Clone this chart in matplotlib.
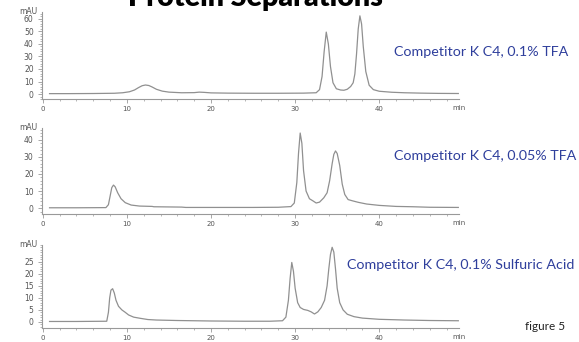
import matplotlib
matplotlib.use('Agg')
import matplotlib.pyplot as plt
from matplotlib.ticker import MultipleLocator

# 0.1% TFA
t_tfa01 = [0.8, 3, 6, 8.5, 9.5, 10.3, 10.9, 11.4, 11.8, 12.2, 12.6, 13.0, 13.5, 14.2, 15, 16.5, 18, 18.6,
           19.2, 20, 22, 25, 28, 31, 32.5, 32.9, 33.2, 33.45, 33.7, 33.95, 34.2, 34.5, 34.9, 35.4, 35.8,
           36.2, 36.6, 36.9, 37.1, 37.3, 37.5, 37.7, 37.9, 38.1, 38.4, 38.8, 39.3, 40, 41.5, 43, 45, 47, 49.4]
a_tfa01 = [0.3, 0.3, 0.4, 0.6, 1.0, 1.8, 3.2, 5.2, 6.6, 7.2, 6.8, 5.6, 3.8, 2.3, 1.5, 1.0, 1.1, 1.5,
           1.3, 0.9, 0.7, 0.6, 0.6, 0.7, 1.0, 3.5, 14, 34, 49.5, 40, 22, 9, 4.2, 3.2, 3.0,
           3.8, 6, 9, 16, 32, 52, 62.5, 56, 38, 18, 7, 3.5, 2.2, 1.4, 1.0, 0.7, 0.5, 0.4]

# 0.05% TFA
t_tfa005 = [0.8, 4, 7.5, 7.8, 8.0, 8.2, 8.4, 8.6, 8.9, 9.3, 9.8, 10.5, 11.5, 13, 13.2, 16.5, 17, 20, 25,
            28, 29.5, 29.9, 30.2, 30.4, 30.6, 30.8, 31.0, 31.3, 31.7, 32.1, 32.5, 32.9, 33.4, 33.8, 34.1,
            34.4, 34.6, 34.8, 35.0, 35.3, 35.6, 35.9, 36.3, 36.8, 37.5, 38.5, 40, 42, 44, 46, 49.4]
a_tfa005 = [0.2, 0.2, 0.3, 2, 7, 12, 13.5, 12.5, 9, 5.5, 3.2, 1.8, 1.2, 1.0, 0.8, 0.6, 0.4, 0.4, 0.4,
            0.5, 0.9, 3, 15, 32, 44, 38, 22, 10, 5.5, 4.3, 3.0, 3.5, 6, 9, 16,
            26, 31.5, 33.5, 32, 25, 14, 8, 5, 4.3, 3.4, 2.4, 1.6, 1.0, 0.8, 0.5, 0.4]

# 0.1% acide sulfurique
t_sulf = [0.8, 4, 7.6, 7.8, 7.95, 8.1, 8.3, 8.5, 8.7, 9.0, 9.4, 9.8, 10.2, 10.8, 11.6, 12.5, 13.5, 16, 20,
          24, 27, 28.5, 28.9, 29.2, 29.4, 29.6, 29.8, 30.0, 30.3, 30.6, 31.0, 31.5, 31.9, 32.3, 32.7,
          33.1, 33.5, 33.8, 34.0, 34.2, 34.4, 34.6, 34.8, 35.0, 35.3, 35.7, 36.2, 37, 38, 40, 43, 46, 49.4]
a_sulf = [0.2, 0.2, 0.3, 4, 10, 13.2, 13.8, 12, 9, 6.5, 5.0, 4.0, 2.9, 2.0, 1.5, 1.0, 0.8, 0.6, 0.4,
          0.3, 0.3, 0.5, 2, 9, 18, 24.7, 21, 14, 8, 6, 5.2, 4.8, 4.2, 3.3, 4.2,
          6, 9, 15, 22, 28, 31, 29, 22, 14, 8, 5, 3.2, 2.2, 1.6, 1.1, 0.8, 0.6, 0.5]

labels = ["Competitor K C4, 0.1% TFA",
          "Competitor K C4, 0.05% TFA",
          "Competitor K C4, 0.1% Sulfuric Acid"]

GRIS = '#909090'
BLEU = '#2f3f9c'


def panneau(fig, rect, t, a, ylim, ymax, major, minor, label, label_x, label_y):
    ax = fig.add_axes(rect)
    ax.plot(t, a, color=GRIS, lw=0.9)
    ax.set_xlim(-0.1, 49.5)
    ax.set_ylim(*ylim)
    for s in ['top', 'right']:
        ax.spines[s].set_visible(False)
    for s in ['left', 'bottom']:
        ax.spines[s].set_color('#999999')
        ax.spines[s].set_linewidth(0.8)
    ax.xaxis.set_minor_locator(MultipleLocator(2))
    ax.yaxis.set_minor_locator(MultipleLocator(minor))
    ax.set_xticks([0, 10, 20, 30, 40])
    ax.set_yticks(list(range(0, ymax + 1, major)))
    ax.tick_params(which='major', length=3, width=0.6, color='#999999', labelsize=5.5,
                   labelcolor='#555555', pad=3)
    ax.tick_params(axis='x', which='major', labelsize=5, pad=2)
    ax.tick_params(which='minor', length=1.5, width=0.5, color='#999999')
    ax.text(-0.01, 1.0, 'mAU', transform=ax.transAxes, ha='right', va='center',
            fontsize=5.5, color='#555555')
    ax.text(1.0, -0.07, 'min', transform=ax.transAxes, ha='center', va='top',
            fontsize=5, color='#555555')
    fig.text(label_x, label_y, label, ha='left', va='center', color=BLEU,
             fontsize=10.3, family='Lato')
    return ax


fig = plt.figure(figsize=(5.79, 3.42), dpi=100)
panneau(fig, [0.0725, 0.7105, 0.7205, 0.2545], t_tfa01, a_tfa01, (-4, 65.6), 60, 10, 2,
        labels[0], 394 / 579, 1 - 52 / 342)
panneau(fig, [0.0725, 0.374, 0.7205, 0.252], t_tfa005, a_tfa005, (-3.5, 47), 40, 10, 2,
        labels[1], 394 / 579, 1 - 156 / 342)
panneau(fig, [0.0725, 0.041, 0.7205, 0.243], t_sulf, a_sulf, (-2.5, 32), 25, 5, 1,
        labels[2], 347 / 579, 1 - 265 / 342)

# titre coupé en haut comme dans l'original
fig.text(255 / 579, 1 - 6 / 342, 'Protein Separations', ha='center', va='baseline',
         fontsize=20.5, fontweight='heavy', family='Lato', color='black')
fig.text(525 / 579, 1 - 327 / 342, 'figure 5', ha='left', va='center', fontsize=8.5,
         family='Lato', color='#222222')

fig.savefig('out.png', dpi=100)
